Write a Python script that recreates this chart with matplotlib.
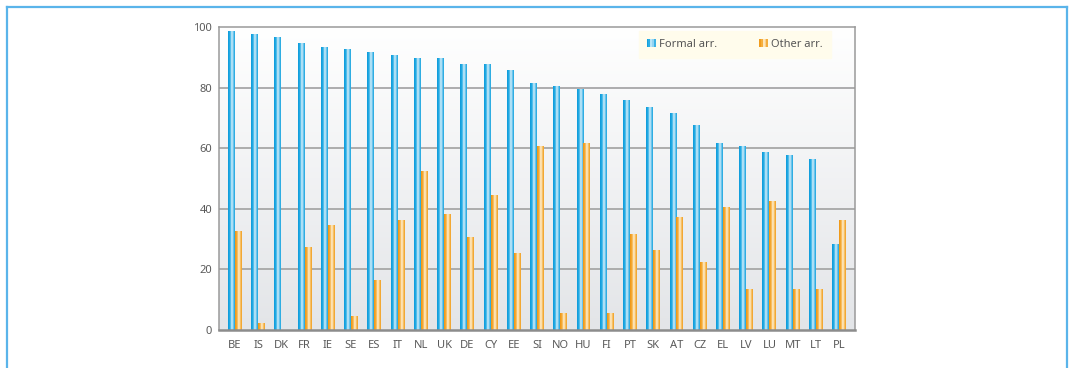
import numpy as np
import matplotlib
matplotlib.use("Agg")
import matplotlib.pyplot as plt
from matplotlib.colors import LinearSegmentedColormap
from matplotlib.patches import Rectangle
from matplotlib.lines import Line2D
from matplotlib.legend_handler import HandlerBase

countries = ["BE", "IS", "DK", "FR", "IE", "SE", "ES", "IT", "NL", "UK", "DE", "CY",
             "EE", "SI", "NO", "HU", "FI", "PT", "SK", "AT", "CZ", "EL", "LV", "LU",
             "MT", "LT", "PL"]
formal = [98.6, 97.6, 96.6, 94.6, 93.3, 92.6, 91.6, 90.7, 89.7, 89.7, 87.7, 87.7,
          85.7, 81.4, 80.4, 79.5, 77.8, 75.8, 73.5, 71.5, 67.6, 61.6, 60.7, 58.7,
          57.7, 56.4, 28.4]
other = [32.6, 2.2, 0.0, 27.4, 34.6, 4.6, 16.5, 36.3, 52.4, 38.2, 30.7, 44.5,
         25.4, 60.7, 5.6, 61.6, 5.6, 31.6, 26.4, 37.3, 22.4, 40.5, 13.5, 42.5,
         13.5, 13.5, 36.3]
series_labels = ["Formal arr.", "Other arr."]
yticks = [0, 20, 40, 60, 80, 100]

# Cylindrical shading across each bar (left edge -> right edge)
blue_cmap = LinearSegmentedColormap.from_list(
    "cyl_blue", [(0.0, "#0b9ad9"), (0.30, "#29aee6"), (0.55, "#d9f1fb"),
                 (0.75, "#7dcbef"), (1.0, "#12a2de")])
orange_cmap = LinearSegmentedColormap.from_list(
    "cyl_orange", [(0.0, "#ef9410"), (0.30, "#f5ae3c"), (0.55, "#fff3dc"),
                   (0.75, "#f8c874"), (1.0, "#f09c1c")])
shade = np.linspace(0, 1, 64).reshape(1, -1)

plt.rcParams["font.family"] = ["Noto Sans", "DejaVu Sans"]

fig = plt.figure(figsize=(10.70, 3.68), dpi=100)
ax = fig.add_axes([219 / 1070, 1 - 330 / 368, 636 / 1070, 303 / 368])

n = len(countries)
x = np.arange(n)
w = 0.30
xlim = (-0.68, n - 1 + 0.68)
ylim = (0, 100)

# background: white at top fading to light grey at the bottom
bg = np.linspace(0, 1, 256).reshape(-1, 1)
bg_cmap = LinearSegmentedColormap.from_list("bg", ["#ffffff", "#e3e5e8"])
ax.imshow(bg, cmap=bg_cmap, extent=[0, 1, 0, 1], transform=ax.transAxes,
          aspect="auto", zorder=0)

for yv in yticks[1:-1]:
    ax.axhline(yv, color="#a7a7a7", lw=1.3, zorder=1)


def shaded_bars(xpos, heights, cmap):
    bars = ax.bar(xpos, heights, width=w, align="edge", color="none",
                  edgecolor="none", zorder=2)
    for rect in bars:
        h = rect.get_height()
        if h <= 0:
            continue
        x0 = rect.get_x()
        im = ax.imshow(shade, cmap=cmap, extent=[x0, x0 + rect.get_width(), 0, h],
                       aspect="auto", zorder=3, interpolation="bilinear")
        im.set_clip_path(rect)


shaded_bars(x - w, formal, blue_cmap)
shaded_bars(x, other, orange_cmap)

ax.set_xlim(*xlim)
ax.set_ylim(*ylim)
ax.set_xticks(x)
ax.set_xticklabels(countries)
ax.set_yticks(yticks)
ax.tick_params(axis="both", length=0, labelsize=8, colors="#5a5a5a")
ax.tick_params(axis="x", pad=7)
ax.tick_params(axis="y", pad=5)
for side in ["left", "right", "top"]:
    ax.spines[side].set_color("#9a9a9a")
    ax.spines[side].set_linewidth(1.1)
ax.spines["bottom"].set_color("#8c8c8c")
ax.spines["bottom"].set_linewidth(1.8)
for sp in ax.spines.values():
    sp.set_zorder(5)


class StripedHandler(HandlerBase):
    def __init__(self, cmap):
        super().__init__()
        self.cmap = cmap

    def create_artists(self, legend, orig_handle, xdescent, ydescent, width,
                       height, fontsize, trans):
        arts = []
        k = 5
        for i in range(k):
            c = self.cmap((i + 0.5) / k)
            arts.append(Rectangle((-xdescent + i * width / k, -ydescent),
                                  width / k, height, facecolor=c,
                                  edgecolor="none", transform=trans))
        return arts


h1 = Rectangle((0, 0), 1, 1)
h2 = Rectangle((0, 0), 1, 1)
leg = ax.legend([h1, h2], series_labels,
                handler_map={h1: StripedHandler(blue_cmap),
                             h2: StripedHandler(orange_cmap)},
                loc="upper right", bbox_to_anchor=(0.962, 0.987), ncol=2,
                fontsize=8, frameon=True, fancybox=False, framealpha=1,
                facecolor="#fffcec", edgecolor="#fffcec", handlelength=0.8,
                handleheight=0.8, handletextpad=0.3, columnspacing=3.8,
                borderpad=0.7, borderaxespad=0)
for t in leg.get_texts():
    t.set_color("#555555")
leg.set_zorder(6)

# outer blue frame, open at the bottom
frame_kw = dict(color="#5ab4ea", lw=1.6, transform=fig.transFigure)
fig.add_artist(Line2D([6.5 / 1070, 6.5 / 1070], [0, 1 - 6.5 / 368], **frame_kw))
fig.add_artist(Line2D([6.5 / 1070, 1066.5 / 1070], [1 - 6.5 / 368, 1 - 6.5 / 368], **frame_kw))
fig.add_artist(Line2D([1066.5 / 1070, 1066.5 / 1070], [0, 1 - 6.5 / 368], **frame_kw))

fig.savefig("out.png", dpi=100)
